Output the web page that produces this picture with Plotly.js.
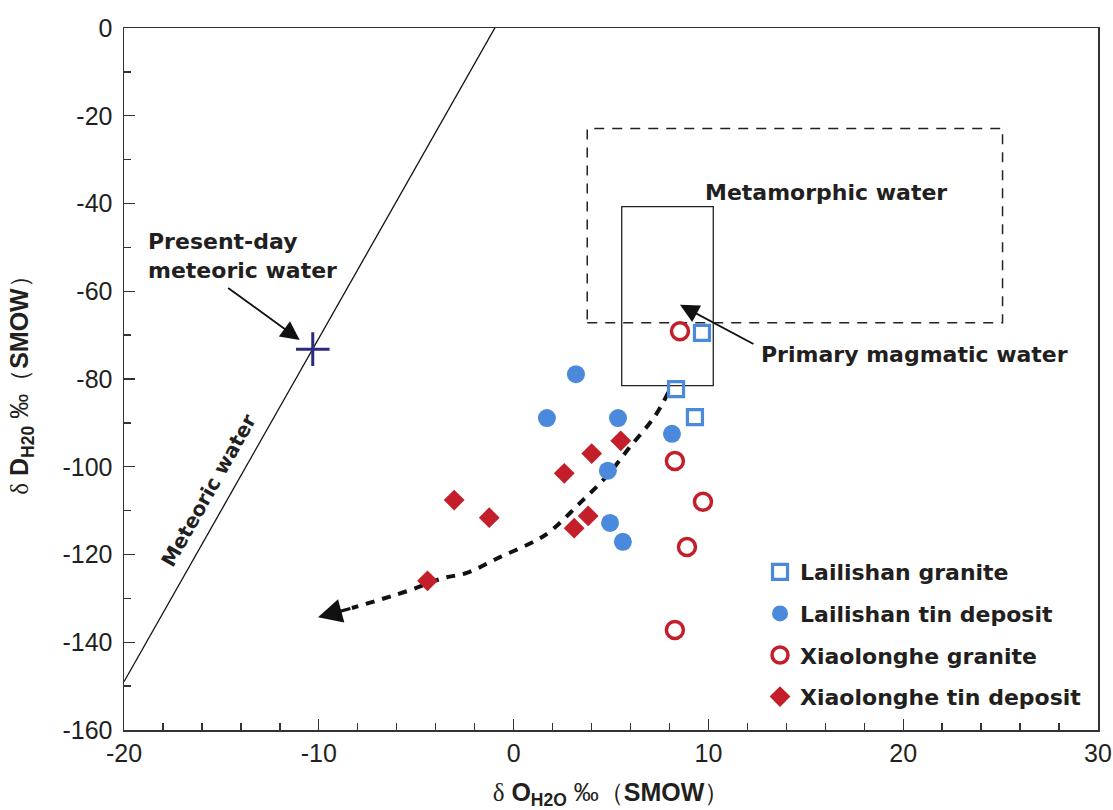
<!DOCTYPE html>
<html>
<head>
<meta charset="utf-8">
<script src="https://cdn.plot.ly/plotly-3.0.1.min.js"></script>
<style>html,body{margin:0;padding:0;background:#fff;}#chart{width:1113px;height:810px;}</style>
</head>
<body>
<div id="chart"></div>
<script>
// ---- data ----
const seriesNames = ["Lailishan granite", "Lailishan tin deposit", "Xiaolonghe granite", "Xiaolonghe tin deposit"];

const lailishanGraniteX = [8.34, 9.67, 9.31];
const lailishanGraniteY = [-82.3, -69.5, -88.7];

const lailishanTinX = [3.20, 1.71, 5.36, 8.13, 4.84, 4.95, 5.61];
const lailishanTinY = [-78.9, -88.9, -88.9, -92.5, -100.9, -112.8, -117.1];

const xiaolongheGraniteX = [8.54, 8.28, 9.72, 8.90, 8.28];
const xiaolongheGraniteY = [-69.1, -98.7, -108.0, -118.3, -137.2];

const xiaolongheTinX = [5.50, 4.01, 2.60, -3.05, -1.25, 3.83, 3.11, -4.42];
const xiaolongheTinY = [-94.1, -97.0, -101.5, -107.6, -111.6, -111.2, -114.0, -126.0];

const presentDayX = [-10.31];
const presentDayY = [-73.2];

const meteoricLineX = [-20, -0.85];
const meteoricLineY = [-149, 0.9];

const trendX = [7.95, 7.25, 5.97, 4.79, 3.40, 1.97, 1.20, -0.70, -2.40, -3.63, -5.43, -8.3];
const trendY = [-83.0, -88.5, -95.5, -102.1, -108.3, -114.4, -116.7, -120.6, -124.2, -125.4, -128.3, -132.2];
const trendTip = [-10.04, -134.3];

const metamorphicBoxX = [3.78, 25.1];
const metamorphicBoxY = [-67.2, -22.9];
const magmaticBoxX = [5.55, 10.25];
const magmaticBoxY = [-81.5, -40.7];

const xRange = [-20, 30];
const yRange = [-160, 0];
const xTickVals = [-20, -10, 0, 10, 20, 30];
const xTickText = ["-20", "-10", "0", "10", "20", "30"];
const yTickVals = [0, -20, -40, -60, -80, -100, -120, -140, -160];
const yTickText = ["0", "-20", "-40", "-60", "-80", "-100", "-120", "-140", "-160"];

// ---- styles ----
const BLUE = "#4A89DC";
const RED = "#C41E2A";
const INK = "#231f20";
const labelFont = {family: "DejaVu Sans", size: 22, color: INK, weight: "bold"};

const traces = [
  {x: meteoricLineX, y: meteoricLineY, mode: "lines", line: {color: "#111", width: 1.3}, showlegend: false, hoverinfo: "skip"},
  {x: trendX, y: trendY, mode: "lines", line: {color: "#111", width: 4, dash: "9px,8px", shape: "spline"}, showlegend: false, hoverinfo: "skip"},
  {x: lailishanGraniteX, y: lailishanGraniteY, mode: "markers", name: seriesNames[0], legendgroup: "a",
   marker: {symbol: "square-open", size: 15, color: BLUE, line: {width: 3.2, color: BLUE}}},
  {x: lailishanTinX, y: lailishanTinY, mode: "markers", name: seriesNames[1], legendgroup: "b",
   marker: {symbol: "circle", size: 18, color: BLUE, line: {width: 0}}},
  {x: xiaolongheGraniteX, y: xiaolongheGraniteY, mode: "markers", name: seriesNames[2], legendgroup: "c",
   marker: {symbol: "circle-open", size: 17, color: RED, line: {width: 3.5, color: RED}}},
  {x: xiaolongheTinX, y: xiaolongheTinY, mode: "markers", name: seriesNames[3], legendgroup: "d",
   marker: {symbol: "diamond", size: 16, color: RED, line: {width: 0}}},
  {x: presentDayX, y: presentDayY, mode: "markers", showlegend: false,
   marker: {symbol: "cross-thin", size: 24, color: "#2b2a80", line: {width: 3, color: "#2b2a80"}}}
];

const shapes = [
  {type: "rect", xref: "x", yref: "y", x0: metamorphicBoxX[0], x1: metamorphicBoxX[1], y0: metamorphicBoxY[0], y1: metamorphicBoxY[1],
   line: {color: "#222", width: 1.5, dash: "10px,8px"}, layer: "below"},
  {type: "rect", xref: "x", yref: "y", x0: magmaticBoxX[0], x1: magmaticBoxX[1], y0: magmaticBoxY[0], y1: magmaticBoxY[1],
   line: {color: "#222", width: 1.3}, layer: "below"}
];

const annotations = [
  {x: -18.85, y: -52.0, xref: "x", yref: "y", text: "Present-day<br>meteoric water", showarrow: false, align: "left",
   xanchor: "left", yanchor: "middle", font: labelFont},
  {x: -10.98, y: -71.1, ax: -14.73, ay: -59.0, xref: "x", yref: "y", axref: "x", ayref: "y", text: "",
   showarrow: true, arrowhead: 2, arrowsize: 2.1, arrowwidth: 1.8, arrowcolor: "#111", standoff: 0},
  {x: 16.05, y: -37.4, xref: "x", yref: "y", text: "Metamorphic water", showarrow: false, font: labelFont},
  {x: 12.6, y: -74.5, xref: "x", yref: "y", text: "Primary magmatic water", showarrow: false, xanchor: "left", font: labelFont},
  {x: 8.54, y: -63.1, ax: 12.39, ay: -72.2, xref: "x", yref: "y", axref: "x", ayref: "y", text: "",
   showarrow: true, arrowhead: 2, arrowsize: 2.1, arrowwidth: 1.8, arrowcolor: "#111", standoff: 0},
  {x: -15.64, y: -105.3, xref: "x", yref: "y", text: "Meteoric water", showarrow: false, textangle: -60.6,
   font: {family: "DejaVu Sans", size: 20, color: INK, weight: "bold"}},
  {x: trendTip[0], y: trendTip[1], ax: trendX[trendX.length - 1], ay: trendY[trendY.length - 1], xref: "x", yref: "y", axref: "x", ayref: "y",
   text: "", showarrow: true, arrowhead: 2, arrowsize: 1.5, arrowwidth: 3.2, arrowcolor: "#111", standoff: 0}
];

const axisCommon = {
  showgrid: false, zeroline: false, showline: true, linecolor: "#333", linewidth: 1.5, mirror: true,
  ticks: "inside", ticklen: 11, tickwidth: 1.4, tickcolor: "#333", tickmode: "array",
  tickfont: {family: "Liberation Sans, Arial", size: 25, color: INK}
};

const layout = {
  width: 1113, height: 810,
  margin: {l: 124, r: 15, t: 28, b: 80},
  paper_bgcolor: "#fff", plot_bgcolor: "#fff",
  xaxis: Object.assign({}, axisCommon, {
    range: xRange, tickvals: xTickVals, ticktext: xTickText,
    minor: {tickmode: "linear", tick0: 0, dtick: 2, ticks: "inside", ticklen: 7, tickwidth: 1.4, tickcolor: "#333"},
    title: {text: "<span style=\"font-family:'Liberation Serif'\">δ</span> <b>O</b><sub><b>H2O</b></sub> ‰（<b>SMOW</b>）",
            font: {family: "Liberation Sans, Arial", size: 25, color: INK}, standoff: 18}
  }),
  yaxis: Object.assign({}, axisCommon, {
    range: yRange, tickvals: yTickVals, ticktext: yTickText, ticklabelstandoff: 5,
    minor: {tickmode: "linear", tick0: 0, dtick: 10, ticks: "inside", ticklen: 7, tickwidth: 1.4, tickcolor: "#333"},
    title: {text: "<span style=\"font-family:'Liberation Serif'\">δ</span> <b>D</b><sub><b>H20</b></sub> ‰（<b>SMOW</b>）",
            font: {family: "Liberation Sans, Arial", size: 25, color: INK}, standoff: 26}
  }),
  showlegend: true,
  legend: {x: 0.653, y: 0.255, xanchor: "left", yanchor: "top", bgcolor: "rgba(0,0,0,0)",
           traceorder: "grouped", tracegroupgap: 10, font: labelFont, itemwidth: 30},
  shapes: shapes,
  annotations: annotations
};

Plotly.newPlot("chart", traces, layout, {displayModeBar: false, staticPlot: true});
</script>
</body>
</html>
